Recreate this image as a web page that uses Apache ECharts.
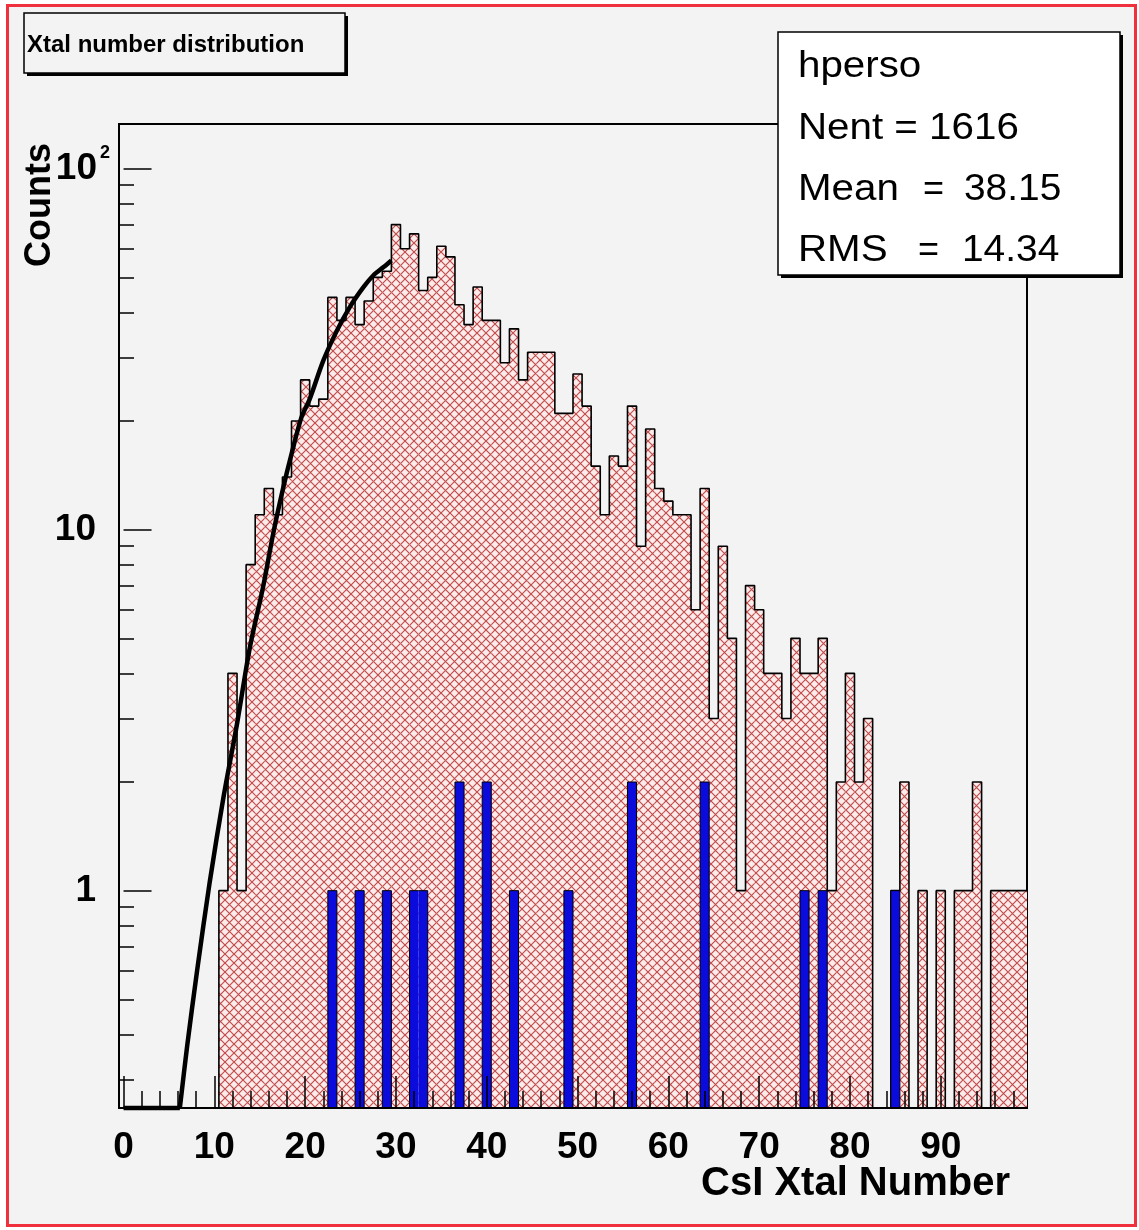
<!DOCTYPE html>
<html><head><meta charset="utf-8">
<script src="https://cdn.jsdelivr.net/npm/echarts@6/dist/echarts.min.js"></script>
<style>html,body{margin:0;padding:0;background:#fff}#c{width:1139px;height:1230px}</style>
</head><body><div id="c"></div>
<script>
// ---- data ----
// red histogram: counts of bins centred on 0,1,...,99
const redCounts = [
  0,0,0,0,0,0,0,0,0,0,
  0,1,4,1,8,11,13,11,14,20,
  26,22,23,44,38,44,37,43,50,52,
  70,60,66,46,50,61,57,42,37,47,
  38,38,29,36,26,31,31,31,21,21,
  27,22,15,11,16,15,22,9,19,13,
  12,11,11,6,13,3,9,5,1,7,
  6,4,4,3,5,4,4,5,1,2,
  4,2,3,0,0,1,2,0,1,0,
  1,0,1,1,2,0,1,1,1,1
];
// blue histogram: bin centres and counts
const blueBins   = [23,26,29,32,33,37,40,43,49,56,64,75,77,85];
const blueCounts = [ 1, 1, 1, 1, 1, 2, 2, 1, 1, 2, 2, 1, 1, 1];
// fitted curve (black)
const fitFlatX = [0, 6.2];
const fitFlatY = [0.25, 0.25];
const fitX = [6.2, 7.0, 8.1, 9.5, 11.0, 12.5, 13.9, 15.4, 16.5, 17.6, 18.5, 19.6, 20.5, 22.0, 23.5, 24.9, 26.4, 27.5, 28.6, 29.5];
const fitY = [0.25, 0.37, 0.6, 1.06, 1.81, 2.9, 4.7, 7.0, 9.8, 13.1, 16.2, 20.5, 23, 29.4, 35.6, 41.3, 46.9, 50.6, 53.3, 55.7];
// axis ticks / labels
const xMajorTicks = [0,10,20,30,40,50,60,70,80,90];
const xMinorTicks = [0,2,4,6,8,10,12,14,16,18,20,22,24,26,28,30,32,34,36,38,40,42,44,46,48,50,52,54,56,58,60,62,64,66,68,70,72,74,76,78,80,82,84,86,88,90,92,94,96,98];
const yMajorTicks = [1,10,100];
const yMinorTicks = [0.3,0.4,0.5,0.6,0.7,0.8,0.9,2,3,4,5,6,7,8,9,20,30,40,50,60,70,80,90];
// texts
const titleText = 'Xtal number distribution';
const xTitle = 'CsI Xtal Number';
const yTitle = 'Counts';
const statName = 'hperso';
const statNent = 'Nent = 1616';
const statLabels = ['Mean', 'RMS'];
const statValues = ['38.15', '14.34'];

const Y_MIN = 0.25, Y_MAX = 133, X_MIN = -0.5, X_MAX = 99.5;
const FONT = '"Liberation Sans", Arial, Helvetica, sans-serif';

function makeHatch() {
  const n = 9;
  const c = document.createElement('canvas');
  c.width = n; c.height = n;
  const g = c.getContext('2d');
  g.fillStyle = '#fcebeb'; g.fillRect(0, 0, n, n);
  g.strokeStyle = '#c04a48'; g.lineWidth = 1.15;
  g.beginPath();
  g.moveTo(-1, -1); g.lineTo(n + 1, n + 1);
  g.moveTo(n + 1, -1); g.lineTo(-1, n + 1);
  g.stroke();
  return c;
}
const hatch = makeHatch();

const redData = [];
redCounts.forEach((v, k) => { if (v > 0) redData.push([k, v]); });
const blueData = blueBins.map((b, i) => [b, blueCounts[i]]);
const blueFull = redCounts.map(() => 0);
blueBins.forEach((b, i) => { blueFull[b] = blueCounts[i]; });

function stepPoints(counts) {
  const pts = [];
  counts.forEach((v, k) => {
    const y = v > 0 ? v : Y_MIN;
    pts.push([k - 0.5, y], [k + 0.5, y]);
  });
  return pts;
}
function barItem(fill) {
  return function (params, api) {
    const x = api.value(0), v = api.value(1);
    const p0 = api.coord([x - 0.5, v]);
    const p1 = api.coord([x + 0.5, v]);
    const cs = params.coordSys;
    const bottom = cs.y + cs.height;
    return { type: 'rect', shape: { x: p0[0], y: p0[1], width: p1[0] - p0[0], height: bottom - p0[1] },
      style: { fill: fill } };
  };
}

const chart = echarts.init(document.getElementById('c'), null, { renderer: 'canvas' });

const SF = '36px ' + FONT;
const statTexts = [
  { type: 'text', x: 798, y: 67, scaleX: 1.12, z: 22, style: { text: statName, font: SF, fill: '#000', align: 'left', verticalAlign: 'middle' } },
  { type: 'text', x: 798, y: 129, scaleX: 1.12, z: 22, style: { text: statNent, font: SF, fill: '#000', align: 'left', verticalAlign: 'middle' } }
];
const statY = [190, 251];
const eqX = [923, 918];
const valX = [964, 962];
statLabels.forEach((lab, i) => {
  statTexts.push({ type: 'text', x: 798, y: statY[i], scaleX: 1.12, z: 22,
    style: { text: lab, font: SF, fill: '#000', align: 'left', verticalAlign: 'middle' } });
  statTexts.push({ type: 'text', x: eqX[i], y: statY[i], scaleX: 1.0, z: 22,
    style: { text: '=', font: SF, fill: '#000', align: 'left', verticalAlign: 'middle' } });
  statTexts.push({ type: 'text', x: valX[i], y: statY[i], scaleX: 1.08, z: 22,
    style: { text: statValues[i], font: SF, fill: '#000', align: 'left', verticalAlign: 'middle' } });
});

const option = {
  animation: false,
  backgroundColor: '#ffffff',
  grid: { left: 119, top: 124, width: 908, height: 984, show: true, borderColor: '#000', borderWidth: 2,
    backgroundColor: 'transparent', containLabel: false, outerBoundsMode: 'none' },
  xAxis: [{
    type: 'value', min: X_MIN, max: X_MAX, position: 'bottom', z: 10,
    axisLine: { show: true, onZero: false, lineStyle: { color: '#000', width: 2 } },
    axisTick: { show: true, inside: true, length: 17, customValues: xMinorTicks, lineStyle: { color: '#000', width: 1.5 } },
    axisLabel: { show: true, customValues: xMajorTicks, fontFamily: FONT, fontWeight: 'bold', fontSize: 37, color: '#000', margin: 21 },
    splitLine: { show: false }
  }, {
    type: 'value', min: X_MIN, max: X_MAX, position: 'bottom', z: 10,
    axisLine: { show: false },
    axisTick: { show: true, inside: true, length: 32, customValues: xMajorTicks, lineStyle: { color: '#000', width: 1.5 } },
    axisLabel: { show: false }, splitLine: { show: false }
  }],
  yAxis: [{
    type: 'log', logBase: 10, min: Y_MIN, max: Y_MAX, position: 'left', z: 10,
    axisLine: { show: true, onZero: false, lineStyle: { color: '#000', width: 2 } },
    axisTick: { show: true, inside: true, length: 15, customValues: yMinorTicks, lineStyle: { color: '#000', width: 1.5 } },
    axisLabel: { show: true, customValues: yMajorTicks, margin: 9,
      formatter: function (v) { const r = Math.round(v); return r === 100 ? '{b|10}{s|2}' : '{a|' + r + '}'; },
      rich: {
        a: { fontFamily: FONT, fontWeight: 'bold', fontSize: 37, color: '#000', padding: [0, 14, 0, 0] },
        b: { fontFamily: FONT, fontWeight: 'bold', fontSize: 37, color: '#000' },
        s: { fontFamily: FONT, fontWeight: 'bold', fontSize: 18, color: '#000', padding: [0, 0, 32, 3] }
      } },
    splitLine: { show: false }, minorTick: { show: false }
  }, {
    type: 'log', logBase: 10, min: Y_MIN, max: Y_MAX, position: 'left', z: 10,
    axisLine: { show: false },
    axisTick: { show: true, inside: true, length: 28, customValues: yMajorTicks, lineStyle: { color: '#000', width: 1.5 } },
    axisLabel: { show: false }, splitLine: { show: false }
  }],
  series: [
    { type: 'custom', name: 'hperso', xAxisIndex: 0, yAxisIndex: 0, z: 2, clip: true,
      renderItem: barItem({ image: hatch, repeat: 'repeat' }), data: redData,
      encode: { x: 0, y: 1 } },
    { type: 'line', name: 'outline', xAxisIndex: 0, yAxisIndex: 0, z: 3, showSymbol: false, symbol: 'none',
      data: stepPoints(redCounts), lineStyle: { color: '#000', width: 1.6 }, clip: false },
    { type: 'custom', name: 'blue', xAxisIndex: 0, yAxisIndex: 0, z: 4, clip: true,
      renderItem: barItem('#0b0bdc'), data: blueData, encode: { x: 0, y: 1 } },
    { type: 'line', name: 'blueOutline', xAxisIndex: 0, yAxisIndex: 0, z: 5, showSymbol: false, symbol: 'none',
      data: stepPoints(blueFull), lineStyle: { color: '#000', width: 1 }, clip: false },
    { type: 'line', name: 'fitFlat', xAxisIndex: 0, yAxisIndex: 0, z: 6, showSymbol: false, symbol: 'none',
      data: fitFlatX.map((x, i) => [x, fitFlatY[i]]), lineStyle: { color: '#000', width: 4.5 }, clip: false },
    { type: 'line', name: 'fit', xAxisIndex: 0, yAxisIndex: 0, z: 6, showSymbol: false, symbol: 'none',
      smooth: 0.3, data: fitX.map((x, i) => [x, fitY[i]]), lineStyle: { color: '#000', width: 4.5 }, clip: false }
  ],
  graphic: [
    { type: 'rect', z: -10, silent: true, shape: { x: 7.5, y: 5.5, width: 1128, height: 1220 }, style: { fill: '#f3f3f3', stroke: '#f0303c', lineWidth: 3 } },
    { type: 'rect', z: 1, shape: { x: 27, y: 16, width: 321, height: 60 }, style: { fill: '#000' } },
    { type: 'rect', z: 2, shape: { x: 24, y: 13, width: 321, height: 60 }, style: { fill: '#f3f3f3', stroke: '#000', lineWidth: 1.5 } },
    { type: 'text', z: 3, x: 27, y: 45, style: { text: titleText, font: 'bold 24px ' + FONT, fill: '#000', align: 'left', verticalAlign: 'middle' } },
    { type: 'rect', z: 20, shape: { x: 781, y: 35, width: 342, height: 243 }, style: { fill: '#000' } },
    { type: 'rect', z: 21, shape: { x: 778, y: 32, width: 342, height: 243 }, style: { fill: '#fff', stroke: '#000', lineWidth: 1.5 } },
    { type: 'text', z: 3, x: 1010, y: 1184, style: { text: xTitle, font: 'bold 40px ' + FONT, fill: '#000', align: 'right', verticalAlign: 'middle' } }
  ].concat(statTexts).concat([
    { type: 'text', z: 3, x: 40, y: 205, rotation: Math.PI / 2, style: { text: yTitle, font: 'bold 36px ' + FONT, fill: '#000', align: 'center', verticalAlign: 'middle' } }
  ])
};
chart.setOption(option);
</script>
</body></html>
